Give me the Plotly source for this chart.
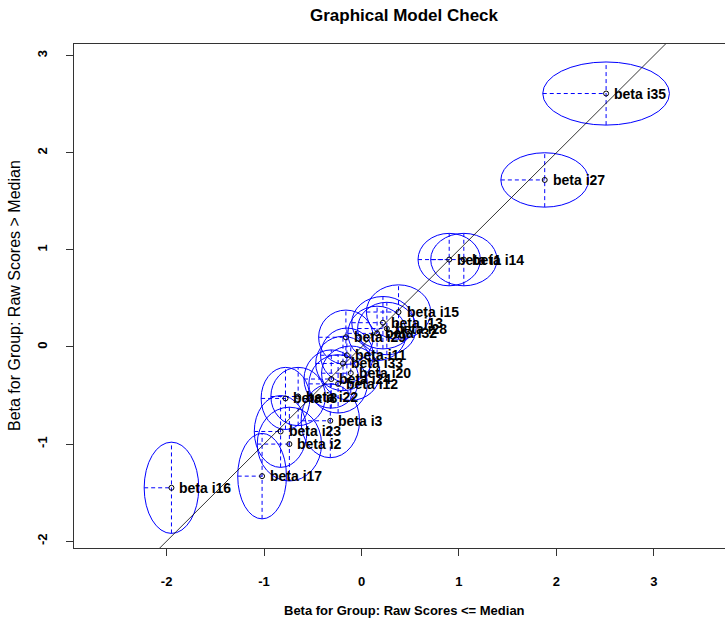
import plotly.graph_objects as go

# item labels
labels = ["beta i35", "beta i27", "beta i1", "beta i14", "beta i15", "beta i13",
          "beta i28", "beta i32", "beta i29", "beta i11", "beta i33", "beta i20",
          "beta i24", "beta i12", "beta i8", "beta i22", "beta i3", "beta i23",
          "beta i2", "beta i17", "beta i16"]
# beta for group raw scores <= median
beta_low = [2.51, 1.88, 0.90, 1.05, 0.38, 0.22, 0.26, 0.16, -0.16, -0.15, -0.19, -0.11,
            -0.31, -0.24, -0.78, -0.65, -0.32, -0.83, -0.74, -1.02, -1.95]
# beta for group raw scores > median
beta_high = [2.61, 1.72, 0.90, 0.90, 0.36, 0.25, 0.19, 0.14, 0.10, -0.085, -0.17, -0.27,
             -0.33, -0.38, -0.53, -0.51, -0.76, -0.87, -1.00, -1.33, -1.45]
# confidence half-widths (x) and half-heights (y)
ci_low = [0.65, 0.45, 0.32, 0.34, 0.33, 0.32, 0.30, 0.30, 0.28, 0.27, 0.28, 0.30,
          0.28, 0.30, 0.25, 0.28, 0.30, 0.27, 0.33, 0.25, 0.28]
ci_high = [0.325, 0.28, 0.27, 0.27, 0.28, 0.27, 0.27, 0.28, 0.28, 0.28, 0.28, 0.28,
           0.30, 0.30, 0.32, 0.30, 0.38, 0.37, 0.38, 0.44, 0.47]

x_ticks = [-2, -1, 0, 1, 2, 3]
y_ticks = [-2, -1, 0, 1, 2, 3]

BLUE = "#0000FF"
FONT = "Liberation Sans, Arial, sans-serif"

fig = go.Figure()

# ellipses
shapes = []
for x, y, rx, ry in zip(beta_low, beta_high, ci_low, ci_high):
    shapes.append(dict(type="circle", xref="x", yref="y",
                       x0=x - rx, x1=x + rx, y0=y - ry, y1=y + ry,
                       line=dict(color=BLUE, width=1), layer="below"))

# dashed crosses
hx, hy, vx, vy = [], [], [], []
for x, y, rx, ry in zip(beta_low, beta_high, ci_low, ci_high):
    hx += [x - rx, x, None]
    hy += [y, y, None]
    vx += [x, x, None]
    vy += [y - ry, y + ry, None]
fig.add_trace(go.Scatter(x=hx, y=hy, mode="lines",
                         line=dict(color=BLUE, width=1, dash="4px,3px"),
                         hoverinfo="skip", showlegend=False))
fig.add_trace(go.Scatter(x=vx, y=vy, mode="lines",
                         line=dict(color=BLUE, width=1, dash="4px,3px"),
                         hoverinfo="skip", showlegend=False))

# identity line
fig.add_trace(go.Scatter(x=[-4, 5], y=[-4, 5], mode="lines",
                         line=dict(color="black", width=0.8),
                         hoverinfo="skip", showlegend=False))

# points
fig.add_trace(go.Scatter(x=beta_low, y=beta_high, mode="markers",
                         marker=dict(symbol="circle-open", size=5,
                                     color="black", line=dict(width=1)),
                         showlegend=False))

annotations = []
for x, y, t in zip(beta_low, beta_high, labels):
    annotations.append(dict(x=x, y=y, xref="x", yref="y", text=t,
                            showarrow=False, xanchor="left", yanchor="middle",
                            xshift=6, font=dict(family=FONT, size=14,
                                                color="black", weight="bold")))

annotations.append(dict(text="Graphical Model Check", xref="paper", yref="paper",
                        x=0.508, y=1.0, yshift=29, xanchor="center",
                        yanchor="middle", showarrow=False,
                        font=dict(family=FONT, size=17, color="black",
                                  weight="bold")))
annotations.append(dict(text="Beta for Group: Raw Scores <= Median",
                        xref="paper", yref="paper", x=0.508, y=0,
                        yshift=-62, xanchor="center", yanchor="middle",
                        showarrow=False,
                        font=dict(family=FONT, size=13, color="black",
                                  weight="bold")))
annotations.append(dict(text="Beta for Group: Raw Scores > Median",
                        xref="paper", yref="paper", x=0, y=0.5,
                        xshift=-60, xanchor="center", yanchor="middle",
                        textangle=-90, showarrow=False,
                        font=dict(family=FONT, size=16, color="black")))

fig.update_layout(
    width=725, height=622,
    margin=dict(l=74, r=0, t=44, b=74, autoexpand=False),
    plot_bgcolor="white", paper_bgcolor="white",
    shapes=shapes, annotations=annotations,
    showlegend=False,
    xaxis=dict(range=[-2.95, 3.73], tickvals=x_ticks,
               ticktext=[str(v) for v in x_ticks],
               showgrid=False, zeroline=False, showline=True, mirror=True,
               linecolor="#333333", linewidth=1,
               ticks="outside", ticklen=7, tickcolor="#333333",
               ticklabelstandoff=14,
               tickfont=dict(family=FONT, size=13, color="black",
                             weight="bold")),
    yaxis=dict(range=[-2.07, 3.12], tickvals=y_ticks,
               ticktext=[str(v) for v in y_ticks],
               showgrid=False, zeroline=False, showline=True, mirror=False,
               linecolor="#333333", linewidth=1,
               ticks="outside", ticklen=7, tickcolor="#333333",
               tickangle=-90, ticklabelstandoff=14,
               tickfont=dict(family=FONT, size=13, color="black",
                             weight="bold")),
)

fig.write_html("out.html",
               config={"displayModeBar": False},
               post_script="document.body.style.margin='0';"
                           "document.body.style.overflow='hidden';")
